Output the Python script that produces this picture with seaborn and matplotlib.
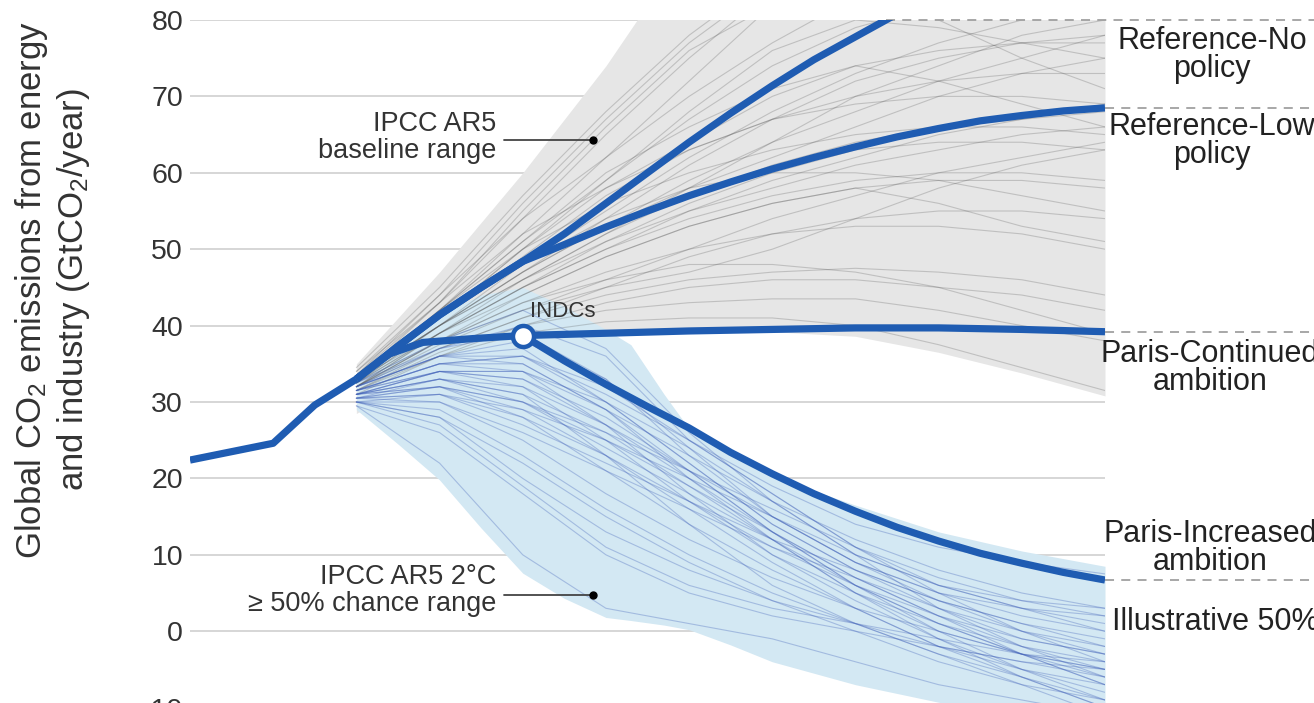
import numpy as np
import pandas as pd
import matplotlib
matplotlib.use("Agg")
import matplotlib.pyplot as plt
import seaborn as sns

# ---------------- data ----------------
hist_years = [1990, 2000, 2005, 2010]
hist_vals = [22.4, 24.6, 29.6, 33.0]

ref_no_years = [2010, 2015, 2020, 2025, 2030, 2035, 2040, 2045, 2050, 2055, 2060, 2065, 2070, 2075, 2080]
ref_no_vals = [33.0, 37.3, 41.4, 45.0, 48.4, 52.0, 56.0, 60.0, 64.0, 67.8, 71.4, 74.8, 77.8, 80.8, 83.5]

ref_low_years = [2010, 2015, 2020, 2025, 2030, 2035, 2040, 2045, 2050, 2055, 2060, 2065, 2070,
                 2075, 2080, 2085, 2090, 2095, 2100]
ref_low_vals = [33.0, 37.3, 41.4, 45.0, 48.4, 50.6, 52.9, 55.0, 57.0, 58.8, 60.5, 62.0, 63.4,
                64.7, 65.8, 66.8, 67.5, 68.1, 68.5]

paris_cont_years = [2010, 2014, 2018, 2024, 2030, 2040, 2050, 2060, 2070, 2080, 2090, 2100]
paris_cont_vals = [33.0, 36.3, 37.8, 38.3, 38.7, 39.0, 39.3, 39.5, 39.7, 39.7, 39.5, 39.2]

paris_inc_years = [2030, 2035, 2040, 2045, 2050, 2055, 2060, 2065, 2070, 2075, 2080, 2085, 2090, 2095, 2100]
paris_inc_vals = [38.7, 35.4, 32.3, 29.4, 26.6, 23.4, 20.6, 18.0, 15.7, 13.6, 11.8, 10.2, 8.9, 7.7, 6.7]

indc_year = [2030]
indc_val = [38.7]

base_env_years = [2010, 2015, 2020, 2025, 2030, 2035, 2040, 2045, 2050, 2060, 2070, 2080, 2090, 2100]
base_upper = [35.0, 41.0, 47.0, 53.5, 60.0, 67.0, 74.0, 82.0, 86.0, 94.0, 99.0, 102.0, 103.0, 104.0]
base_lower = [28.5, 31.5, 34.0, 36.3, 37.5, 38.4, 39.0, 39.2, 39.3, 39.2, 38.6, 36.5, 33.8, 30.8]

c2_env_years = [2010, 2015, 2020, 2025, 2030, 2035, 2040, 2043, 2047, 2050, 2055, 2060, 2070, 2080, 2090, 2100]
c2_upper = [33.5, 38.0, 41.5, 44.0, 45.0, 42.5, 39.5, 37.5, 31.0, 26.5, 23.0, 20.3, 16.5, 13.0, 10.5, 8.5]
c2_lower = [29.0, 24.5, 19.8, 13.5, 7.6, 4.3, 1.8, 1.4, 0.8, 0.2, -1.8, -4.0, -7.0, -9.3, -11.0, -12.0]

scen_years = [2010, 2020, 2030, 2040, 2050, 2060, 2070, 2080, 2090, 2100]
baseline_scenarios = [
    [33.0, 42, 52, 62, 72, 82, 90, 95, 98, 100],
    [32.5, 40, 48, 55, 62, 68, 73, 77, 80, 82],
    [33.0, 39, 45, 50, 54, 57, 59, 60, 60, 59],
    [32.0, 38, 43, 47, 50, 52, 53, 53, 52, 50],
    [33.5, 41, 50, 58, 64, 70, 74, 76, 77, 77],
    [32.0, 37, 41, 44, 46, 47, 47.5, 47, 46, 44],
    [34.0, 43, 54, 65, 75, 84, 90, 94, 96, 97],
    [32.5, 38, 42, 45, 47, 50, 54, 58, 61, 63],
    [33.0, 40, 47, 53, 58, 62, 66, 70, 73, 75],
    [31.5, 36.5, 40, 42, 43, 43.5, 43.5, 42, 40, 38],
    [33.0, 41, 49, 57, 63, 67, 69, 70, 70, 69],
    [32.0, 39, 46, 52, 57, 61, 64, 66, 67, 68],
    [34.5, 45, 57, 68, 78, 86, 92, 96, 99, 101],
    [33.0, 40, 46, 52, 58, 64, 70, 74, 78, 80],
    [32.5, 39, 44, 49, 53, 56, 58, 56, 53, 51],
    [33.0, 42, 51, 60, 66, 71, 74, 72, 69, 66],
    [32.0, 37.5, 42, 46, 50, 54, 57, 60, 62, 64],
    [33.5, 42, 51, 59, 68, 76, 80, 79, 77, 75],
    [31.0, 36, 39, 40.5, 41, 41, 40, 37.5, 34.5, 31.5],
    [33.0, 43, 55, 66, 76, 82, 84, 80, 75, 71],
    [33.5, 44, 56, 67, 77, 85, 90, 93, 94, 95],
    [32.5, 41, 50, 59, 67, 74, 79, 82, 83, 83],
    [33.0, 40, 47, 54, 61, 67, 72, 75, 77, 78],
    [32.0, 38, 44, 49, 53, 56, 58, 59, 59, 58],
    [33.0, 41, 48, 54, 58, 60, 60, 59, 57, 55],
    [32.5, 39, 45, 51, 56, 60, 63, 64, 64, 63],
    [31.5, 37, 41, 45, 49, 52, 54, 55, 55, 54],
    [33.0, 42, 50, 56, 60, 63, 65, 66, 66, 65],
    [34.0, 44, 54, 62, 70, 77, 83, 88, 90, 92],
    [32.0, 38, 43, 46, 48, 48, 47, 45, 42, 39],
    [33.0, 40, 46, 51, 55, 58, 61, 63, 65, 66],
    [32.5, 40, 47, 53, 59, 64, 68, 72, 75, 78],
    [31.5, 36, 40, 43, 45, 46, 46, 45, 44, 42],
    [33.5, 43, 52, 58, 63, 67, 70, 72, 73, 73],
    [32.0, 39, 45, 50, 55, 59, 62, 65, 67, 69],
]
c2_scenarios = [
    [32.0, 36, 37, 30, 22, 14, 8, 4, 1, -1],
    [31.0, 34, 32, 25, 17, 10, 5, 1, -2, -4],
    [30.0, 30, 25, 18, 12, 7, 3, 0, -3, -6],
    [31.5, 35, 34, 27, 18, 10, 4, -1, -5, -8],
    [30.5, 32, 28, 21, 14, 8, 3, -2, -6, -10],
    [32.0, 36, 38, 33, 24, 15, 9, 5, 3, 2],
    [30.0, 28, 20, 13, 8, 4, 1, -2, -4, -5],
    [31.0, 33, 30, 24, 18, 12, 6, 1, -3, -7],
    [32.5, 37, 40, 36, 25, 18, 11, 6, 3, 1],
    [30.5, 31, 27, 22, 17, 12, 8, 4, 1, -2],
    [31.0, 34, 33, 28, 21, 13, 6, 0, -5, -9],
    [29.5, 26, 18, 10, 5, 2, 0, -2, -4, -6],
    [31.5, 35, 35, 29, 20, 12, 5, 0, -3, -5],
    [30.0, 31, 29, 25, 20, 15, 10, 6, 3, 0],
    [32.0, 36, 36, 31, 25, 18, 11, 5, 0, -4],
    [31.0, 32, 30, 26, 21, 16, 11, 7, 4, 2],
    [30.5, 33, 31, 23, 14, 6, 1, -3, -7, -11],
    [31.0, 34, 34, 30, 24, 17, 10, 3, -2, -6],
    [31.5, 35, 36, 32, 25, 19, 14, 11, 9, 7.5],
    [29.5, 22, 10, 3, 1, -1, -4, -7, -9, -11],
    [32.0, 37, 39, 33, 23, 15, 9, 5, 2, 0],
    [31.0, 33, 31, 26, 19, 13, 7, 2, -2, -5],
    [30.5, 31, 28, 23, 17, 11, 6, 2, -1, -3],
    [31.5, 34, 33, 27, 20, 13, 7, 2, -3, -7],
    [30.0, 29, 23, 16, 10, 5, 1, -3, -6, -9],
    [32.5, 38, 42, 37, 26, 17, 10, 6, 4, 3],
    [31.0, 32, 29, 23, 16, 9, 3, -2, -5, -7],
    [30.0, 27, 19, 11, 6, 3, 1, -1, -3, -4],
    [31.5, 35, 36, 30, 22, 14, 8, 3, -1, -3],
    [30.5, 30, 26, 21, 16, 11, 7, 3, 0, -2],
    [32.0, 36, 35, 29, 21, 13, 6, 1, -3, -5],
    [31.0, 33, 32, 27, 21, 15, 9, 4, 0, -3],
    [30.0, 28, 22, 15, 9, 4, 0, -4, -7, -9],
    [31.5, 34, 34, 29, 23, 17, 12, 8, 5, 3],
    [30.5, 32, 30, 25, 19, 12, 5, -1, -6, -10],
]

yticks = [-10, 0, 10, 20, 30, 40, 50, 60, 70, 80]
right_labels = ["Reference-No\npolicy", "Reference-Low\npolicy",
                "Paris-Continued\nambition", "Paris-Increased\nambition"]
illustrative_label = "Illustrative 50%"

# ---------------- style ----------------
sns.set_style("white")
plt.rcParams["font.family"] = ["Liberation Sans", "DejaVu Sans"]
plt.rcParams["mathtext.default"] = "regular"

MAIN = "#1f5cb2"
TXT = "#333333"

fig = plt.figure(figsize=(13.14, 7.03), dpi=100)
ax = fig.add_axes([190 / 1314, -0.0283, 915 / 1314, 0.99986])
ax.set_xlim(1990, 2100)
ax.set_ylim(-12, 80)

for y in yticks:
    ax.axhline(y, color="#d6d6d6", lw=1.4, zorder=0)

ax.fill_between(base_env_years, base_lower, base_upper, color="#e6e6e6", lw=0, zorder=1)
ax.fill_between(c2_env_years, c2_lower, c2_upper, color="#d3e8f3", lw=0, zorder=2)

def long_form(scens):
    rows = []
    for i, s in enumerate(scens):
        for yr, v in zip(scen_years, s):
            rows.append({"id": i, "year": yr, "value": v})
    return pd.DataFrame(rows)

gdf = long_form(baseline_scenarios)
bdf = long_form(c2_scenarios)
sns.lineplot(data=gdf, x="year", y="value", units="id", estimator=None,
             color="#4d4d4d", alpha=0.25, lw=0.8, ax=ax, zorder=3, legend=False)
sns.lineplot(data=bdf, x="year", y="value", units="id", estimator=None,
             color="#3f5fb8", alpha=0.33, lw=0.8, ax=ax, zorder=4, legend=False)

for xs, ys in [(hist_years, hist_vals), (ref_no_years, ref_no_vals),
               (ref_low_years, ref_low_vals), (paris_cont_years, paris_cont_vals),
               (paris_inc_years, paris_inc_vals)]:
    sns.lineplot(x=xs, y=ys, color=MAIN, lw=5.2, ax=ax, zorder=6,
                 solid_capstyle="butt", solid_joinstyle="round", estimator=None, sort=False)

sns.scatterplot(x=indc_year, y=indc_val, s=230, color="white", edgecolor=MAIN,
                linewidth=3.2, ax=ax, zorder=7)
ax.text(2030.9, 41.8, "INDCs", fontsize=16, color=TXT, ha="left", va="center")

# dashed connectors to the right labels
x_cross = float(np.interp(80, ref_no_vals, ref_no_years))
dash_kw = dict(color="#a0a0a0", lw=1.3, ls=(0, (5, 4)), clip_on=False, zorder=5)
ax.plot([x_cross, 2126], [80, 80], **dash_kw)
for v in [ref_low_vals[-1], paris_cont_vals[-1], paris_inc_vals[-1]]:
    ax.plot([2100, 2126], [v, v], **dash_kw)

lab_kw = dict(fontsize=22, color="#222222", ha="center", va="center",
              linespacing=0.92, family=["Liberation Sans Narrow", "Liberation Sans"])
ax.text(2112.9, 75.4, right_labels[0], **lab_kw)
ax.text(2112.9, 64.2, right_labels[1], **lab_kw)
ax.text(2112.6, 34.4, right_labels[2], **lab_kw)
ax.text(2112.6, 10.9, right_labels[3], **lab_kw)
ax.text(2100.9, 1.2, illustrative_label, fontsize=22, color="#222222", ha="left",
        va="center", family=["Liberation Sans Narrow", "Liberation Sans"])

# annotations
ann_kw = dict(fontsize=19.5, color=TXT, ha="right", va="center", linespacing=1.05)
ax.text(2026.8, 64.6, "IPCC AR5\nbaseline range", **ann_kw)
ax.plot([2027.7, 2038.5], [64.3, 64.3], color="#444444", lw=1.3, zorder=8)
ax.plot([2038.5], [64.3], "o", ms=5, color="black", zorder=8)
ax.text(2026.8, 5.3, "IPCC AR5 2°C\n≥ 50% chance range", **ann_kw)
ax.plot([2027.7, 2038.5], [4.8, 4.8], color="#444444", lw=1.3, zorder=8)
ax.plot([2038.5], [4.8], "o", ms=5, color="black", zorder=8)

ax.set_yticks(yticks)
ax.set_xticks([])
ax.tick_params(axis="y", length=0, labelsize=20.5, labelcolor=TXT, pad=5)
for s in ax.spines.values():
    s.set_visible(False)
ax.set_xlabel("")
ax.set_ylabel("")

fig.text(0.040, 0.5875, "Global CO$_2$ emissions from energy\nand industry (GtCO$_2$/year)",
         rotation=90, ha="center", va="center", fontsize=25, color=TXT, linespacing=1.15)

fig.savefig("out.png", dpi=100)
